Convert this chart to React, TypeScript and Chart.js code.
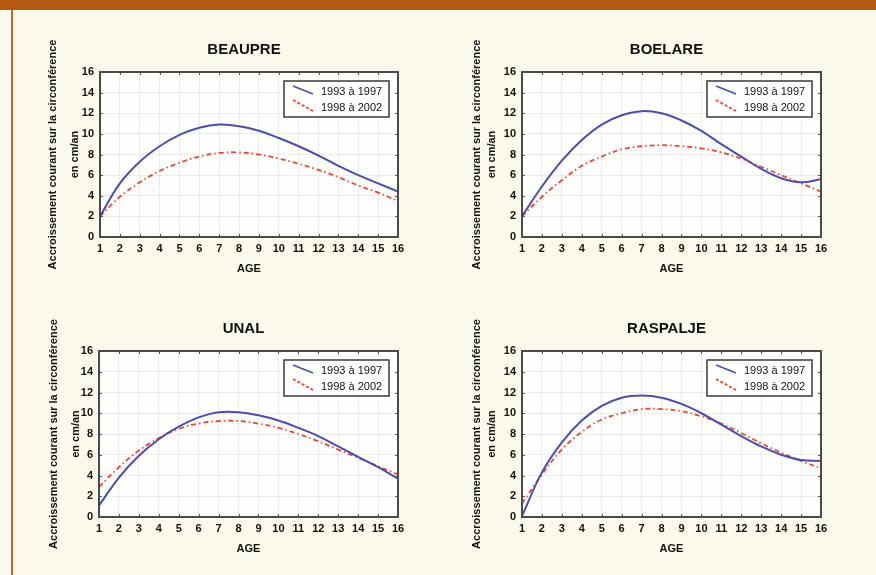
import React, { useEffect, useRef } from "react";
import { Chart, registerables } from "chart.js";
Chart.register(...registerables);

// ---------- DATA ----------
const ages = [1, 2, 3, 4, 5, 6, 7, 8, 9, 10, 11, 12, 13, 14, 15, 16];
const seriesLabels = ["1993 à 1997", "1998 à 2002"];
const panelTitles = ["BEAUPRE", "BOELARE", "UNAL", "RASPALJE"];
const yTitleLines = ["Accroissement courant sur la circonférence", "en cm/an"];
const xTitleText = "AGE";

const beaupre9397 = [2.0, 5.2, 7.3, 8.8, 9.9, 10.6, 10.9, 10.75, 10.3, 9.6, 8.8, 7.9, 6.9, 6.0, 5.2, 4.4];
const beaupre9802 = [2.0, 3.9, 5.3, 6.4, 7.2, 7.8, 8.15, 8.2, 8.0, 7.6, 7.1, 6.5, 5.8, 5.0, 4.3, 3.5];
const boelare9397 = [2.0, 4.9, 7.4, 9.4, 10.9, 11.8, 12.2, 12.0, 11.3, 10.3, 9.0, 7.8, 6.6, 5.7, 5.3, 5.6];
const boelare9802 = [2.0, 3.9, 5.5, 6.9, 7.8, 8.5, 8.8, 8.9, 8.8, 8.6, 8.2, 7.6, 6.8, 6.0, 5.2, 4.4];
const unal9397 = [1.1, 3.8, 5.9, 7.5, 8.7, 9.6, 10.1, 10.1, 9.8, 9.3, 8.6, 7.8, 6.8, 5.8, 4.8, 3.7];
const unal9802 = [2.9, 4.8, 6.4, 7.6, 8.5, 9.0, 9.25, 9.25, 9.0, 8.6, 8.0, 7.3, 6.5, 5.7, 4.9, 4.1];
const raspalje9397 = [0.1, 4.3, 7.2, 9.3, 10.7, 11.5, 11.7, 11.5, 10.9, 10.0, 8.9, 7.8, 6.8, 6.0, 5.5, 5.4];
const raspalje9802 = [1.3, 4.1, 6.5, 8.2, 9.4, 10.0, 10.4, 10.4, 10.2, 9.7, 9.0, 8.1, 7.1, 6.2, 5.4, 4.7];

// ---------- LAYOUT / STYLE ----------
const FONT = '"Liberation Sans", Arial, Helvetica, sans-serif';
const BLUE = "#4b4db0";
const RED = "#ec4433";
const RED_DASH = [5, 3, 1.5, 3];

type PanelCfg = {
  title: string;
  a: number[];
  b: number[];
  plot: { l: number; t: number; r: number; b: number };
  y1Off: number; // distance from plot left to first y-title line center
  yGap: number; // distance between the two y-title lines
};

const panels: PanelCfg[] = [
  { title: panelTitles[0], a: beaupre9397, b: beaupre9802, plot: { l: 100, t: 72, r: 398, b: 237 }, y1Off: 47, yGap: 22 },
  { title: panelTitles[1], a: boelare9397, b: boelare9802, plot: { l: 522, t: 72, r: 821, b: 237 }, y1Off: 45, yGap: 15 },
  { title: panelTitles[2], a: unal9397, b: unal9802, plot: { l: 99, t: 351, r: 398, b: 517 }, y1Off: 45, yGap: 22 },
  { title: panelTitles[3], a: raspalje9397, b: raspalje9802, plot: { l: 522, t: 351, r: 821, b: 517 }, y1Off: 45, yGap: 15 },
];

const LEFT_W = 60;
const TOP_H = 40;
const RIGHT_W = 12;
const BOTTOM_H = 45;

function decorPlugin(title: string) {
  return {
    id: "decor",
    beforeDraw(chart: any) {
      const { ctx, chartArea: a } = chart;
      ctx.save();
      ctx.fillStyle = "#fefefc";
      ctx.fillRect(a.left, a.top, a.right - a.left, a.bottom - a.top);
      ctx.restore();
    },
    afterDatasetsDraw(chart: any) {
      const { ctx, chartArea: a, scales } = chart;
      ctx.save();
      // inward tick marks
      ctx.strokeStyle = "#555";
      ctx.lineWidth = 1;
      scales.x.ticks.forEach((t: any) => {
        const px = Math.round(scales.x.getPixelForValue(t.value)) + 0.5;
        ctx.beginPath();
        ctx.moveTo(px, a.bottom);
        ctx.lineTo(px, a.bottom - 3);
        ctx.moveTo(px, a.top);
        ctx.lineTo(px, a.top + 3);
        ctx.stroke();
      });
      scales.y.ticks.forEach((t: any) => {
        const py = Math.round(scales.y.getPixelForValue(t.value)) + 0.5;
        ctx.beginPath();
        ctx.moveTo(a.left, py);
        ctx.lineTo(a.left + 3, py);
        ctx.moveTo(a.right, py);
        ctx.lineTo(a.right - 3, py);
        ctx.stroke();
      });
      // frame
      ctx.strokeStyle = "#4a4a4a";
      ctx.lineWidth = 2;
      ctx.strokeRect(a.left, a.top, a.right - a.left, a.bottom - a.top);
      // title
      ctx.fillStyle = "#111";
      ctx.font = `bold 15px ${FONT}`;
      ctx.textAlign = "center";
      ctx.textBaseline = "middle";
      ctx.fillText(title, (a.left + a.right) / 2 - 5, a.top - 22);
      // legend box
      const bw = 105;
      const bh = 36;
      const bx = a.right - 9 - bw;
      const by = a.top + 9;
      ctx.fillStyle = "#fefefc";
      ctx.fillRect(bx, by, bw, bh);
      ctx.strokeStyle = "#3a3a3a";
      ctx.lineWidth = 1.5;
      ctx.strokeRect(bx, by, bw, bh);
      ctx.lineWidth = 1.8;
      ctx.strokeStyle = BLUE;
      ctx.setLineDash([]);
      ctx.beginPath();
      ctx.moveTo(bx + 9, by + 5);
      ctx.lineTo(bx + 29, by + 13);
      ctx.stroke();
      ctx.strokeStyle = RED;
      ctx.setLineDash([3, 2]);
      ctx.beginPath();
      ctx.moveTo(bx + 9, by + 19);
      ctx.lineTo(bx + 29, by + 30);
      ctx.stroke();
      ctx.setLineDash([]);
      ctx.fillStyle = "#111";
      ctx.font = `11px ${FONT}`;
      ctx.textAlign = "left";
      ctx.textBaseline = "middle";
      ctx.fillText(seriesLabels[0], bx + 37, by + 10.5);
      ctx.fillText(seriesLabels[1], bx + 37, by + 27);
      ctx.restore();
    },
  };
}

function Panel({ cfg }: { cfg: PanelCfg }) {
  const ref = useRef<HTMLCanvasElement>(null);
  const { plot } = cfg;
  const left = plot.l - LEFT_W;
  const top = plot.t - TOP_H;
  const width = plot.r - plot.l + LEFT_W + RIGHT_W;
  const height = plot.b - plot.t + TOP_H + BOTTOM_H;

  useEffect(() => {
    if (!ref.current) return;
    const y1 = LEFT_W - cfg.y1Off;
    const chart = new Chart(ref.current, {
      type: "line",
      data: {
        datasets: [
          {
            label: seriesLabels[0],
            data: ages.map((x, i) => ({ x, y: cfg.a[i] })),
            borderColor: BLUE,
            borderWidth: 2,
            pointRadius: 0,
            tension: 0.4,
            fill: false,
          },
          {
            label: seriesLabels[1],
            data: ages.map((x, i) => ({ x, y: cfg.b[i] })),
            borderColor: RED,
            borderWidth: 1.8,
            borderDash: RED_DASH,
            pointRadius: 0,
            tension: 0.4,
            fill: false,
          },
        ],
      },
      options: {
        animation: false,
        responsive: false,
        maintainAspectRatio: false,
        layout: { padding: { top: TOP_H, right: RIGHT_W, left: 0, bottom: 0 } },
        plugins: {
          legend: { display: false },
          title: { display: false },
          tooltip: { enabled: false },
        },
        scales: {
          x: {
            type: "linear",
            min: 1,
            max: 16,
            afterFit: (s: any) => {
              s.height = BOTTOM_H;
            },
            ticks: {
              stepSize: 1,
              autoSkip: false,
              maxRotation: 0,
              color: "#111",
              padding: 5,
              font: { family: FONT, size: 11, weight: "bold" },
            },
            grid: { color: "rgba(0,0,0,0.07)", drawTicks: false },
            border: { display: false },
            title: {
              display: true,
              text: xTitleText,
              color: "#111",
              font: { family: FONT, size: 11, weight: "bold" },
              padding: { top: 0, bottom: 6 },
            },
          },
          y: {
            min: 0,
            max: 16,
            afterFit: (s: any) => {
              s.width = LEFT_W;
            },
            ticks: {
              stepSize: 2,
              color: "#111",
              padding: 6,
              font: { family: FONT, size: 11, weight: "bold" },
            },
            grid: { color: "rgba(0,0,0,0.07)", drawTicks: false },
            border: { display: false },
            title: {
              display: true,
              text: yTitleLines,
              color: "#111",
              font: { family: FONT, size: 11, weight: "bold", lineHeight: cfg.yGap / 11 },
              padding: { top: y1 - cfg.yGap / 2, bottom: 0 },
            },
          },
        },
      },
      plugins: [decorPlugin(cfg.title)],
    } as any);
    return () => chart.destroy();
  }, [cfg]);

  return (
    <canvas
      ref={ref}
      width={width}
      height={height}
      style={{ position: "absolute", left, top, width, height }}
    />
  );
}

export default function App() {
  useEffect(() => {
    document.body.style.margin = "0";
  }, []);
  return (
    <div
      style={{
        position: "fixed",
        left: 0,
        top: 0,
        width: 876,
        height: 575,
        background: "#fbf8ec",
        overflow: "hidden",
      }}
    >
      <div style={{ position: "absolute", left: 0, top: 0, width: 876, height: 10, background: "#b35a12" }} />
      <div style={{ position: "absolute", left: 11, top: 10, width: 2, height: 565, background: "#c0651a" }} />
      {panels.map((p, i) => (
        <Panel key={i} cfg={p} />
      ))}
    </div>
  );
}
